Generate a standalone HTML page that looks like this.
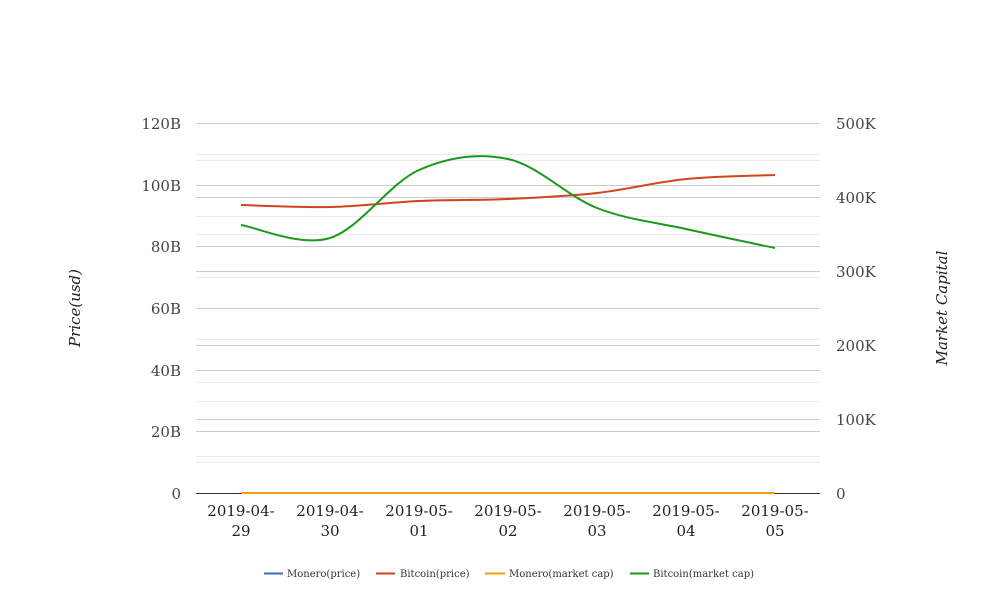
<!DOCTYPE html><html><head><meta charset="utf-8"><style>body{margin:0;background:#fff}svg{display:block;font-family:"DejaVu Serif","Liberation Serif",serif}</style></head><body>
<svg id="s" width="1008" height="616" xmlns="http://www.w3.org/2000/svg">
<g stroke="#ebebeb" stroke-width="1">
<line x1="196" x2="820" y1="154.5" y2="154.5"/><line x1="196" x2="820" y1="216.5" y2="216.5"/><line x1="196" x2="820" y1="277.5" y2="277.5"/><line x1="196" x2="820" y1="339.5" y2="339.5"/><line x1="196" x2="820" y1="401.5" y2="401.5"/><line x1="196" x2="820" y1="462.5" y2="462.5"/>
<line x1="196" x2="820" y1="160.5" y2="160.5"/><line x1="196" x2="820" y1="234.5" y2="234.5"/><line x1="196" x2="820" y1="308.5" y2="308.5"/><line x1="196" x2="820" y1="382.5" y2="382.5"/><line x1="196" x2="820" y1="456.5" y2="456.5"/>
</g>
<g stroke="#cccccc" stroke-width="1">
<line x1="196" x2="820" y1="123.5" y2="123.5"/><line x1="196" x2="820" y1="185.5" y2="185.5"/><line x1="196" x2="820" y1="246.5" y2="246.5"/><line x1="196" x2="820" y1="308.5" y2="308.5"/><line x1="196" x2="820" y1="370.5" y2="370.5"/><line x1="196" x2="820" y1="431.5" y2="431.5"/>
<line x1="196" x2="820" y1="197.5" y2="197.5"/><line x1="196" x2="820" y1="271.5" y2="271.5"/><line x1="196" x2="820" y1="345.5" y2="345.5"/><line x1="196" x2="820" y1="419.5" y2="419.5"/>
</g>
<line x1="196" x2="820" y1="493.5" y2="493.5" stroke="#333"/>
<g font-size="15" fill="#444" text-anchor="end">
<text x="181" y="129">120B</text><text x="181" y="191">100B</text><text x="181" y="252">80B</text><text x="181" y="314">60B</text><text x="181" y="376">40B</text><text x="181" y="437">20B</text><text x="181" y="499">0</text>
</g>
<g font-size="15" fill="#444">
<text x="836" y="129">500K</text><text x="836" y="203">400K</text><text x="836" y="277">300K</text><text x="836" y="351">200K</text><text x="836" y="425">100K</text><text x="836" y="499">0</text>
</g>
<g font-size="15" fill="#222" text-anchor="middle" id="xl"></g>
<text transform="translate(80,308) rotate(-90)" font-size="15" font-style="italic" fill="#222" text-anchor="middle">Price(usd)</text>
<text transform="translate(947,308) rotate(-90)" font-size="15" font-style="italic" fill="#222" text-anchor="middle">Market Capital</text>
<path id="red" fill="none" stroke="#d0451b" stroke-width="2"/>
<path id="green" fill="none" stroke="#1a9a1a" stroke-width="2"/>
<line x1="241" x2="775" y1="493" y2="493" stroke="#f39c12" stroke-width="2"/>
<g font-size="10" fill="#333">
<line x1="264" x2="283" y1="573.5" y2="573.5" stroke="#3a6fc4" stroke-width="2"/><text x="287" y="577">Monero(price)</text>
<line x1="376" x2="395" y1="573.5" y2="573.5" stroke="#d0451b" stroke-width="2"/><text x="400" y="577">Bitcoin(price)</text>
<line x1="485" x2="505" y1="573.5" y2="573.5" stroke="#f39c12" stroke-width="2"/><text x="509" y="577">Monero(market cap)</text>
<line x1="630" x2="649" y1="573.5" y2="573.5" stroke="#1a9a1a" stroke-width="2"/><text x="653" y="577">Bitcoin(market cap)</text>
</g>
</svg>
<script>
var xs=[241,330,419,508,597,686,775];
var d=["2019-04-29","2019-04-30","2019-05-01","2019-05-02","2019-05-03","2019-05-04","2019-05-05"];
var g=document.getElementById("xl"),h="";
for(var i=0;i<7;i++){var p=d[i].split("-");h+='<text x="'+xs[i]+'" y="516">'+p[0]+'-'+p[1]+'-</text><text x="'+xs[i]+'" y="536">'+p[2]+'</text>';}
g.innerHTML=h;
function cr(ys){var n=ys.length,s="M"+xs[0]+","+ys[0];
for(var i=0;i<n-1;i++){var x0=xs[Math.max(i-1,0)],y0=ys[Math.max(i-1,0)],x3=xs[Math.min(i+2,n-1)],y3=ys[Math.min(i+2,n-1)];
var c1x=xs[i]+(xs[i+1]-x0)/6,c1y=ys[i]+(ys[i+1]-y0)/6,c2x=xs[i+1]-(x3-xs[i])/6,c2y=ys[i+1]-(y3-ys[i])/6;
s+=" C"+c1x+","+c1y+" "+c2x+","+c2y+" "+xs[i+1]+","+ys[i+1];}return s;}
document.getElementById("red").setAttribute("d",cr([205,207,201,199,193,179,175]));
document.getElementById("green").setAttribute("d",cr([225,238,170,159,208,229,248]));
</script>
</body></html>
